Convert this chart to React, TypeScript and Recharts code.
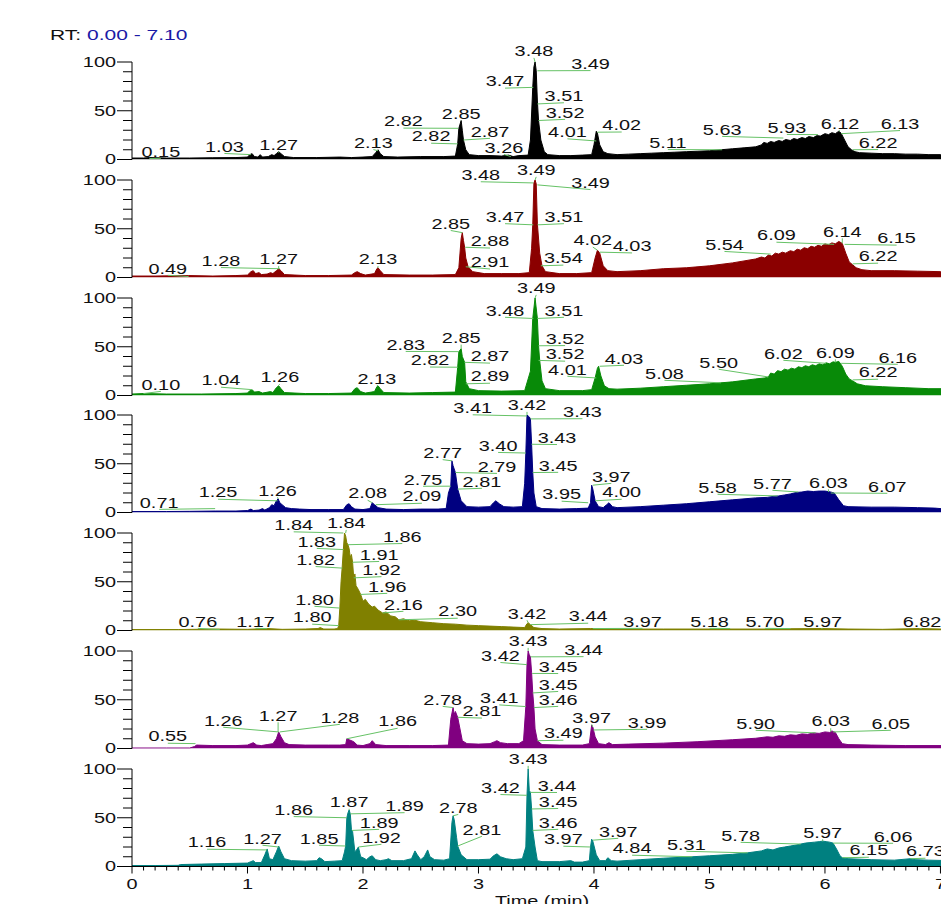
import { AreaChart, Area, XAxis, YAxis, ReferenceLine, ReferenceDot } from 'recharts'

type Pt = [number, number]
// label text, peak rt, peak height, label rt, label height
type Peak = [string, number, number, number, number]

const FONT = "'Liberation Sans', Arial, Helvetica, sans-serif"
const STRETCH = 1.42
const LEADER = '#66c266'

const yTicks = [0, 10, 20, 30, 40, 50, 60, 70, 80, 90, 100]
const yLabels = [0, 50, 100]
const xLabels = [0, 1, 2, 3, 4, 5, 6, 7]
const xTicks = Array.from({ length: 72 }, (_, i) => i / 10)

const trace1: Pt[] = [
  [0, 1.5], [0.1, 1.5], [0.15, 2], [0.3, 1.5], [0.5, 1.5], [0.7, 1.8], [0.9, 2], [1, 2.5], [1.02, 5], [1.04, 6],
  [1.06, 3], [1.09, 2.5], [1.11, 5], [1.13, 2.5], [1.18, 3], [1.21, 5], [1.23, 4], [1.25, 6], [1.27, 8], [1.29, 6],
  [1.32, 3], [1.4, 2], [1.6, 2], [1.8, 2.5], [1.9, 2], [2, 2.5], [2.08, 3], [2.11, 7], [2.13, 10], [2.15, 6],
  [2.18, 3], [2.3, 2.5], [2.5, 3], [2.7, 3], [2.8, 3.5], [2.82, 16], [2.83, 32], [2.85, 40], [2.86, 30], [2.87, 20],
  [2.89, 10], [2.92, 5], [3, 4], [3.1, 4], [3.2, 3.5], [3.26, 4.5], [3.3, 3], [3.35, 4], [3.43, 4.5], [3.45, 20],
  [3.47, 74], [3.48, 95], [3.49, 100], [3.5, 91], [3.51, 60], [3.52, 40], [3.54, 20], [3.57, 8], [3.6, 5], [3.7, 4],
  [3.8, 4], [3.9, 4.5], [3.98, 5], [4, 15], [4.02, 29], [4.03, 27], [4.05, 15], [4.08, 8], [4.12, 6], [4.2, 5],
  [4.3, 5.5], [4.4, 6], [4.5, 6.5], [4.6, 7], [4.7, 7.5], [4.8, 8], [4.9, 8.5], [5, 9], [5.1, 10], [5.2, 11],
  [5.3, 12], [5.4, 13], [5.45, 15], [5.47, 17.5], [5.5, 16.5], [5.53, 18.5], [5.56, 17.5], [5.6, 19.5], [5.63, 18.5], [5.66, 20.5],
  [5.7, 19.5], [5.73, 21.5], [5.76, 20.5], [5.8, 22.5], [5.83, 21.5], [5.86, 23.5], [5.9, 22.5], [5.93, 24.5], [5.96, 24], [6, 26.5],
  [6.03, 25.5], [6.06, 27.5], [6.09, 26.5], [6.12, 29], [6.14, 27], [6.17, 20], [6.2, 13], [6.23, 10], [6.26, 8], [6.3, 7],
  [6.4, 6.5], [6.5, 6], [6.6, 6], [6.7, 5.5], [6.8, 5.5], [6.9, 5], [7, 5], [7.1, 5],
]

const trace2: Pt[] = [
  [0, 1.5], [0.2, 1.5], [0.49, 2], [0.7, 1.5], [0.9, 2], [1, 2.5], [1.03, 6], [1.05, 7], [1.07, 4], [1.1, 5],
  [1.12, 3], [1.17, 3.5], [1.2, 5], [1.22, 4], [1.25, 7], [1.27, 9], [1.29, 7], [1.32, 3], [1.5, 2], [1.7, 2],
  [1.9, 2.5], [1.93, 5], [1.95, 6], [1.98, 4], [2.02, 2.5], [2.1, 4], [2.12, 9], [2.13, 10], [2.15, 7], [2.18, 3],
  [2.4, 2.5], [2.6, 2.5], [2.8, 3], [2.83, 10], [2.85, 40], [2.86, 46], [2.87, 38], [2.88, 31], [2.89, 20], [2.91, 11],
  [2.95, 6], [3.05, 4], [3.2, 4], [3.35, 4], [3.44, 5], [3.46, 30], [3.47, 54], [3.48, 97], [3.49, 100], [3.5, 96],
  [3.51, 55], [3.53, 25], [3.55, 12], [3.58, 6], [3.7, 4], [3.85, 4], [3.98, 5], [4.01, 20], [4.03, 28], [4.05, 25],
  [4.08, 12], [4.12, 7], [4.2, 6], [4.4, 7], [4.6, 9], [4.8, 10], [5, 12], [5.2, 15], [5.4, 19], [5.45, 21],
  [5.48, 20], [5.51, 23], [5.54, 22], [5.57, 25], [5.6, 24], [5.63, 26], [5.66, 25], [5.7, 27.5], [5.73, 26.5], [5.76, 29],
  [5.79, 28], [5.82, 30.5], [5.85, 29.5], [5.88, 32], [5.91, 31], [5.94, 33], [5.97, 32], [6, 34.5], [6.03, 33.5], [6.06, 35.5],
  [6.09, 34.5], [6.12, 37], [6.15, 35], [6.18, 25], [6.21, 16], [6.24, 13], [6.27, 10], [6.32, 8], [6.4, 7], [6.6, 7],
  [6.8, 6.5], [7, 6], [7.1, 6],
]

const trace3: Pt[] = [
  [0, 1.5], [0.1, 2], [0.3, 1.5], [0.6, 1.5], [0.9, 2], [1, 2.5], [1.02, 5], [1.04, 6], [1.06, 3.5], [1.1, 4],
  [1.13, 2.5], [1.2, 4], [1.22, 3], [1.25, 8], [1.27, 10], [1.29, 7], [1.32, 3], [1.5, 2], [1.7, 2], [1.9, 2.5],
  [1.93, 7], [1.95, 8], [1.98, 4], [2.02, 2.5], [2.1, 4], [2.12, 9], [2.13, 10], [2.15, 7], [2.18, 3], [2.4, 2.5],
  [2.6, 3], [2.8, 3.5], [2.82, 29], [2.83, 45], [2.85, 48], [2.86, 40], [2.88, 34], [2.89, 14], [2.92, 7], [3, 5],
  [3.2, 4.5], [3.4, 5], [3.45, 25], [3.47, 79], [3.49, 100], [3.51, 79], [3.52, 51], [3.53, 36], [3.55, 15], [3.58, 7],
  [3.7, 5], [3.9, 5], [3.98, 6], [4.01, 18], [4.03, 28], [4.04, 30], [4.06, 20], [4.09, 10], [4.13, 7], [4.2, 6.5],
  [4.4, 7.5], [4.6, 9], [4.8, 10.5], [5, 12], [5.2, 14], [5.4, 17], [5.48, 18], [5.51, 19], [5.53, 23], [5.56, 22],
  [5.59, 25.5], [5.62, 24.5], [5.65, 27], [5.68, 26], [5.71, 28], [5.74, 27], [5.77, 29.5], [5.8, 28.5], [5.83, 30.5], [5.86, 29.5],
  [5.89, 31.5], [5.92, 30.5], [5.95, 32.5], [5.98, 31.5], [6.01, 33.5], [6.04, 32.5], [6.07, 34.5], [6.09, 34], [6.12, 35], [6.15, 30],
  [6.18, 22], [6.21, 17], [6.24, 15], [6.28, 12], [6.35, 10], [6.5, 9], [6.7, 8], [6.9, 7], [7.1, 7],
]

const trace4: Pt[] = [
  [0, 1], [0.3, 1], [0.5, 1.2], [0.72, 1.5], [0.9, 1.5], [1, 2], [1.03, 3.5], [1.05, 2], [1.1, 2.5], [1.13, 4],
  [1.15, 2.5], [1.19, 5], [1.21, 8], [1.23, 7], [1.25, 12], [1.265, 14], [1.28, 10], [1.3, 8], [1.33, 5], [1.38, 4],
  [1.45, 3.5], [1.55, 3], [1.7, 3], [1.83, 3], [1.86, 8], [1.88, 9], [1.9, 6], [1.93, 3.5], [2, 3], [2.06, 4],
  [2.08, 10], [2.1, 8], [2.13, 5], [2.2, 3.5], [2.35, 3], [2.5, 3.5], [2.65, 3.5], [2.72, 4], [2.74, 20], [2.76, 27],
  [2.77, 53], [2.78, 48], [2.8, 41], [2.82, 24], [2.85, 12], [2.9, 6], [3, 5.5], [3.1, 6], [3.13, 10], [3.15, 12],
  [3.18, 9], [3.22, 6], [3.3, 5.5], [3.38, 6], [3.4, 30], [3.41, 61], [3.42, 100], [3.43, 99], [3.44, 98], [3.45, 96],
  [3.46, 70], [3.47, 41], [3.48, 20], [3.5, 6], [3.55, 4], [3.7, 3.5], [3.85, 4], [3.95, 4.5], [3.97, 10], [3.98, 28],
  [3.99, 24], [4.01, 12], [4.04, 6], [4.08, 5], [4.11, 8], [4.13, 10], [4.16, 6], [4.2, 5], [4.4, 6], [4.6, 7.5],
  [4.8, 9], [5, 11], [5.2, 13], [5.4, 15], [5.5, 15.5], [5.55, 16.5], [5.6, 17], [5.65, 18], [5.7, 19], [5.75, 20.5],
  [5.8, 21], [5.85, 22], [5.9, 21.5], [5.95, 22], [6, 22], [6.05, 21], [6.08, 20], [6.12, 13], [6.16, 7], [6.2, 6],
  [6.4, 5.5], [6.6, 5.5], [6.8, 5], [6.95, 4.5], [7.1, 3],
]

const trace5: Pt[] = [
  [0, 1], [0.4, 1], [0.76, 1.5], [1, 1.2], [1.17, 2], [1.3, 1.2], [1.5, 1.5], [1.61, 2], [1.63, 3], [1.66, 1.5],
  [1.75, 1.5], [1.78, 2], [1.79, 5], [1.8, 24], [1.81, 50], [1.82, 65], [1.83, 83], [1.84, 100], [1.85, 97], [1.86, 90],
  [1.87, 88], [1.88, 84], [1.89, 75], [1.9, 78], [1.91, 70], [1.92, 54], [1.93, 58], [1.94, 46], [1.96, 42], [1.98, 37],
  [2, 30], [2.02, 32], [2.05, 27], [2.08, 24], [2.1, 25], [2.13, 21], [2.17, 18], [2.2, 19], [2.24, 15], [2.28, 14],
  [2.31, 11], [2.35, 12], [2.4, 10], [2.45, 10.5], [2.5, 9], [2.6, 8], [2.7, 7], [2.8, 6.5], [2.9, 5.5], [3, 5],
  [3.1, 4.5], [3.2, 4], [3.3, 3.5], [3.4, 3], [3.42, 7], [3.43, 8], [3.45, 6], [3.48, 3], [3.55, 2], [3.7, 1.5],
  [3.97, 2], [4.2, 1.5], [4.6, 1.5], [5, 1.5], [5.18, 1.5], [5.5, 1.5], [5.7, 1.8], [5.97, 2], [6.2, 1.5], [6.5, 1.2],
  [6.82, 2], [7.1, 1.2],
]

const trace6: Pt[] = [
  [0, 0.5], [0.3, 0.5], [0.5, 0.5], [0.54, 2], [0.56, 3.5], [0.7, 3], [0.9, 3], [1, 3.5], [1.03, 5], [1.05, 6],
  [1.08, 3.5], [1.12, 3], [1.17, 4], [1.22, 5], [1.25, 10], [1.27, 17], [1.29, 12], [1.32, 6], [1.36, 4], [1.5, 3.5],
  [1.7, 3.5], [1.8, 3.5], [1.85, 4], [1.86, 10], [1.88, 9], [1.92, 7], [1.95, 3.5], [2, 3], [2.06, 5], [2.08, 8],
  [2.11, 4], [2.2, 3], [2.4, 3], [2.6, 3], [2.74, 3.5], [2.76, 30], [2.78, 42], [2.79, 35], [2.8, 38], [2.82, 32],
  [2.84, 20], [2.86, 8], [2.9, 5], [3, 4.5], [3.1, 5], [3.14, 7], [3.16, 8], [3.19, 6], [3.25, 5], [3.35, 5],
  [3.39, 8], [3.41, 43], [3.42, 86], [3.43, 100], [3.44, 96], [3.45, 94], [3.46, 78], [3.47, 57], [3.48, 42], [3.49, 20],
  [3.51, 8], [3.55, 4], [3.7, 3.5], [3.9, 3.5], [3.96, 5], [3.98, 24], [3.99, 22], [4.01, 12], [4.04, 5], [4.1, 4],
  [4.13, 6], [4.16, 4], [4.3, 4.5], [4.6, 5.5], [4.9, 7], [5.2, 9], [5.4, 10.5], [5.5, 12], [5.55, 11.5], [5.6, 13],
  [5.65, 12.5], [5.7, 14], [5.75, 13.5], [5.8, 15], [5.85, 14.5], [5.9, 16], [5.95, 15.5], [6, 17], [6.04, 16.5], [6.06, 18],
  [6.09, 16.5], [6.12, 10], [6.15, 5], [6.2, 4], [6.4, 3.5], [6.7, 3], [7.1, 3],
]

const trace7: Pt[] = [
  [0, 1], [0.2, 1], [0.4, 1.2], [0.42, 2], [0.6, 2.5], [0.8, 3], [1, 3.5], [1.03, 5], [1.05, 6], [1.07, 4],
  [1.12, 4], [1.15, 12], [1.17, 18], [1.19, 8], [1.22, 7], [1.25, 15], [1.27, 21], [1.29, 15], [1.32, 8], [1.38, 6],
  [1.5, 5.5], [1.6, 6], [1.62, 9], [1.64, 8], [1.67, 5], [1.75, 5.5], [1.82, 6], [1.84, 15], [1.85, 21], [1.86, 50],
  [1.87, 55], [1.88, 58], [1.89, 54], [1.9, 38], [1.91, 36], [1.93, 15], [1.95, 18], [1.96, 20], [1.98, 10], [2, 9],
  [2.03, 7], [2.06, 10], [2.08, 11], [2.11, 7], [2.15, 6], [2.2, 7], [2.22, 8], [2.25, 6], [2.35, 6], [2.42, 8],
  [2.45, 16], [2.47, 12], [2.5, 7], [2.53, 10], [2.56, 17], [2.58, 10], [2.62, 7], [2.7, 6.5], [2.75, 8], [2.77, 45],
  [2.78, 52], [2.79, 48], [2.81, 30], [2.82, 21], [2.85, 12], [2.9, 7], [3, 7], [3.1, 7.5], [3.13, 11], [3.16, 13],
  [3.19, 10], [3.24, 8], [3.3, 7], [3.38, 8], [3.41, 20], [3.42, 73], [3.43, 100], [3.44, 78], [3.45, 76], [3.46, 59],
  [3.47, 37], [3.49, 20], [3.51, 6], [3.55, 5], [3.7, 5], [3.8, 6], [3.83, 4.5], [3.9, 4.5], [3.96, 6], [3.97, 20],
  [3.98, 28], [3.99, 26], [4.02, 12], [4.05, 6], [4.1, 6], [4.12, 9], [4.15, 6], [4.2, 5.5], [4.4, 7], [4.6, 8.5],
  [4.85, 10], [5, 11], [5.2, 12.5], [5.33, 14], [5.45, 16], [5.5, 18], [5.55, 17], [5.6, 19], [5.65, 20], [5.7, 21],
  [5.75, 22], [5.79, 23], [5.83, 24], [5.87, 24.5], [5.91, 25], [5.95, 25.5], [5.98, 26], [6.01, 25.5], [6.04, 25], [6.07, 24],
  [6.1, 18], [6.13, 11], [6.15, 9], [6.2, 8], [6.4, 7], [6.6, 6.5], [6.74, 8], [6.78, 7], [6.9, 6.5], [7.1, 6],
]

const peaks1: Peak[] = [
  ['0.15', 0.15, 1, 0.25, 8], ['1.03', 1.03, 5, 0.8, 13], ['1.27', 1.27, 7, 1.27, 15], ['2.13', 2.13, 9, 2.09, 17],
  ['2.82', 2.825, 32, 2.35, 39], ['2.85', 2.85, 40, 2.85, 47], ['2.82', 2.82, 16, 2.59, 23.5], ['2.87', 2.87, 20, 3.1, 28.5],
  ['3.26', 3.28, 3, 3.22, 12], ['3.47', 3.475, 74, 3.23, 80], ['3.48', 3.49, 100, 3.48, 111], ['3.49', 3.51, 91, 3.97, 98],
  ['3.51', 3.51, 57, 3.74, 65], ['3.52', 3.52, 40, 3.75, 48], ['4.01', 4.02, 19, 3.77, 28], ['4.02', 4.03, 28, 4.24, 35],
  ['5.11', 5.11, 10, 4.64, 17], ['5.63', 5.64, 22, 5.11, 30.5], ['5.93', 5.94, 25.5, 5.67, 32.5], ['6.12', 6.12, 29, 6.13, 36.5],
  ['6.13', 6.14, 26.5, 6.65, 36.5], ['6.22', 6.24, 10, 6.46, 17],
]

const peaks2: Peak[] = [
  ['0.49', 0.49, 1, 0.31, 9], ['1.28', 1.28, 9, 0.77, 17], ['1.27', 1.27, 9, 1.27, 18.5], ['2.13', 2.13, 10, 2.13, 18.5],
  ['2.85', 2.86, 46, 2.76, 55], ['2.88', 2.885, 31, 3.1, 37], ['2.91', 2.89, 11, 3.1, 15.5], ['3.48', 3.475, 97, 3.02, 105],
  ['3.49', 3.49, 100, 3.5, 110], ['3.49', 3.51, 95, 3.97, 97], ['3.47', 3.475, 54, 3.23, 62], ['3.51', 3.51, 54, 3.74, 62],
  ['3.54', 3.54, 12, 3.735, 19.5], ['4.02', 4.03, 28, 3.99, 38], ['4.03', 4.05, 26, 4.33, 32], ['5.54', 5.53, 24, 5.13, 33.5],
  ['6.09', 6.08, 34, 5.58, 43], ['6.14', 6.15, 35, 6.15, 47], ['6.15', 6.17, 34, 6.62, 40], ['6.22', 6.24, 14, 6.46, 21.5],
]

const peaks3: Peak[] = [
  ['0.10', 0.1, 2, 0.25, 11], ['1.04', 1.04, 6, 0.77, 15.3], ['1.26', 1.265, 10, 1.28, 18.4], ['2.13', 2.13, 10, 2.12, 17.3],
  ['2.83', 2.825, 45, 2.37, 52], ['2.85', 2.85, 48, 2.85, 59], ['2.82', 2.82, 29, 2.58, 36], ['2.87', 2.88, 34, 3.1, 40],
  ['2.89', 2.89, 12, 3.1, 19.4], ['3.49', 3.49, 100, 3.5, 110], ['3.48', 3.475, 79, 3.23, 87], ['3.51', 3.51, 79, 3.74, 87],
  ['3.52', 3.52, 51, 3.75, 58], ['3.52', 3.52, 36, 3.75, 42], ['4.01', 4.02, 18, 3.77, 26.5], ['4.03', 4.05, 30, 4.26, 37.8],
  ['5.08', 5.1, 13, 4.61, 22.4], ['5.50', 5.51, 19, 5.08, 33.7], ['6.02', 6.01, 33, 5.64, 42.9], ['6.09', 6.09, 34, 6.09, 43.9],
  ['6.16', 6.14, 33, 6.63, 38.8], ['6.22', 6.24, 16, 6.46, 23.5],
]

const peaks4: Peak[] = [
  ['0.71', 0.72, 4, 0.235, 10], ['1.25', 1.26, 12, 0.745, 20.4], ['1.26', 1.265, 14, 1.26, 22.4], ['2.08', 2.08, 10, 2.04, 19.4],
  ['2.09', 2.11, 8, 2.51, 16.3], ['2.75', 2.76, 27, 2.52, 33.7], ['2.77', 2.77, 53, 2.69, 61], ['2.79', 2.8, 41, 3.16, 46.9],
  ['2.81', 2.82, 24, 3.03, 31.6], ['3.41', 3.42, 99, 2.95, 107], ['3.42', 3.42, 100, 3.42, 110], ['3.40', 3.41, 61, 3.17, 68.4],
  ['3.43', 3.45, 96, 3.9, 103], ['3.43', 3.46, 70, 3.68, 76.5], ['3.45', 3.47, 41, 3.69, 48], ['3.95', 3.95, 10, 3.72, 18.4],
  ['3.97', 3.99, 28, 4.15, 36.7], ['4.00', 4.01, 12, 4.24, 20.4], ['5.58', 5.59, 17, 5.07, 25.5], ['5.77', 5.77, 21, 5.545, 29.6],
  ['6.03', 6.03, 21, 6.03, 30.6], ['6.07', 6.05, 20, 6.54, 26.5],
]

const peaks5: Peak[] = [
  ['0.76', 0.76, 1, 0.57, 9], ['1.17', 1.17, 2, 1.07, 9], ['1.84', 1.83, 100, 1.4, 108], ['1.84', 1.85, 100, 1.855, 110],
  ['1.83', 1.83, 83, 1.6, 91], ['1.86', 1.87, 88, 2.34, 96], ['1.82', 1.82, 64, 1.59, 72.4], ['1.91', 1.91, 70, 2.14, 77.6],
  ['1.92', 1.92, 54, 2.16, 62], ['1.96', 1.98, 37, 2.21, 44.9], ['1.80', 1.8, 23, 1.58, 31.6], ['1.80', 1.79, 5, 1.56, 13.3],
  ['2.16', 2.17, 18, 2.35, 26.5], ['2.30', 2.31, 11, 2.82, 19.4], ['3.42', 3.43, 8, 3.42, 17.3], ['3.44', 3.45, 6, 3.95, 14.3],
  ['3.97', 3.99, 2, 4.42, 9], ['5.18', 5.18, 2, 5, 9], ['5.70', 5.7, 2, 5.48, 9], ['5.97', 5.97, 2, 5.98, 9],
  ['6.82', 6.82, 2, 6.84, 9],
]

const peaks6: Peak[] = [
  ['0.55', 0.55, 5, 0.31, 12.2], ['1.26', 1.27, 17, 0.79, 28.6], ['1.27', 1.265, 17, 1.265, 33.7], ['1.28', 1.28, 17, 1.8, 31.6],
  ['1.86', 1.86, 10, 2.3, 27.6], ['2.78', 2.78, 42, 2.69, 50], ['2.81', 2.82, 32, 3.03, 38], ['3.42', 3.42, 86, 3.19, 95],
  ['3.43', 3.43, 100, 3.43, 110], ['3.41', 3.41, 43, 3.18, 51.5], ['3.44', 3.45, 94, 3.91, 101], ['3.45', 3.465, 77, 3.69, 83.7],
  ['3.45', 3.47, 57, 3.69, 65.3], ['3.46', 3.48, 42, 3.69, 50], ['3.49', 3.51, 8, 3.735, 15.3], ['3.97', 3.99, 22, 3.98, 31.6],
  ['3.99', 3.995, 19, 4.46, 26.5], ['5.90', 5.92, 16, 5.4, 25.5], ['6.03', 6.05, 17, 6.05, 27.6], ['6.05', 6.07, 17, 6.57, 25.5],
]

const peaks7: Peak[] = [
  ['1.16', 1.17, 17, 0.65, 24.5], ['1.27', 1.27, 20, 1.13, 28.6], ['1.86', 1.86, 50, 1.4, 58], ['1.87', 1.88, 58, 1.88, 66],
  ['1.89', 1.89, 54, 2.36, 62], ['1.89', 1.905, 37, 2.14, 44.9], ['1.85', 1.85, 21, 1.62, 28.6], ['1.92', 1.96, 20, 2.16, 29.6],
  ['2.78', 2.78, 52, 2.825, 60.2], ['2.81', 2.82, 21, 3.03, 37.8], ['3.42', 3.42, 73, 3.19, 80.6], ['3.43', 3.43, 100, 3.43, 110],
  ['3.44', 3.45, 76, 3.68, 82.7], ['3.45', 3.46, 59, 3.69, 66.3], ['3.46', 3.47, 37, 3.69, 44.9], ['3.97', 3.97, 20, 3.735, 27.6],
  ['3.97', 3.99, 27, 4.21, 35.7], ['4.84', 4.85, 10, 4.33, 18.4], ['5.31', 5.33, 14, 4.8, 22.4], ['5.78', 5.79, 23, 5.27, 31.6],
  ['5.97', 5.98, 26, 5.98, 34.7], ['6.06', 6.07, 24, 6.59, 30.6], ['6.15', 6.15, 9, 6.38, 16.3], ['6.73', 6.74, 8, 6.87, 15.3],
]

const panels = [
  { id: 'p1', color: '#000000', trace: trace1, peaks: peaks1 },
  { id: 'p2', color: '#8b0000', trace: trace2, peaks: peaks2 },
  { id: 'p3', color: '#088a08', trace: trace3, peaks: peaks3 },
  { id: 'p4', color: '#000080', trace: trace4, peaks: peaks4 },
  { id: 'p5', color: '#808000', trace: trace5, peaks: peaks5 },
  { id: 'p6', color: '#800080', trace: trace6, peaks: peaks6 },
  { id: 'p7', color: '#008080', trace: trace7, peaks: peaks7 },
]

function StretchText({ x, y, anchor = 'middle', children }: { x: number; y: number; anchor?: string; children: any }) {
  return (
    <g transform={`translate(${x},${y}) scale(${STRETCH},1)`}>
      <text x={0} y={0} textAnchor={anchor as any} dominantBaseline="central" fontFamily={FONT} fontSize={14} fill="#111">
        {children}
      </text>
    </g>
  )
}

function YTick({ x, y, payload }: any) {
  const major = yLabels.includes(payload.value)
  return (
    <g>
      <line x1={x - (major ? 15 : 9)} x2={x} y1={y} y2={y} stroke="#000" />
      {major && <StretchText x={x - 16} y={y} anchor="end">{payload.value}</StretchText>}
    </g>
  )
}

function XTick({ x, y, payload }: any) {
  const major = xLabels.includes(payload.value)
  return (
    <g>
      <line x1={x} x2={x} y1={y} y2={y + (major ? 7 : 4)} stroke="#000" />
      {major && <StretchText x={x} y={y + 18}>{payload.value}</StretchText>}
    </g>
  )
}

function AxisTitle(props: any) {
  const vb = props.viewBox || { x: 132, y: 866, width: 820, height: 40 }
  return <StretchText x={vb.x + vb.width / 2} y={vb.y + 35}>Time (min)</StretchText>
}

const PANEL_STEP = 117.75
const TOP_PAD = 22
const PLOT_H = 97.5
const BOTTOM_PAD = 9
const AXIS_H = 40

export default function App() {
  return (
    <div style={{ position: 'absolute', left: 0, top: 0, width: 941, height: 904, overflow: 'hidden', background: '#fff' }}>
      <div
        style={{
          position: 'absolute', left: 50, top: 26, fontFamily: FONT, fontSize: 14, lineHeight: '18px',
          transform: 'scaleX(1.5)', transformOrigin: 'left center', whiteSpace: 'nowrap', color: '#111',
        }}
      >
        RT: <span style={{ color: '#1a1aa6' }}>0.00 - 7.10</span>
      </div>
      {panels.map((p, i) => {
        const last = i === panels.length - 1
        const bottom = last ? 0 : BOTTOM_PAD
        const height = TOP_PAD + PLOT_H + bottom + (last ? AXIS_H : 0)
        const rows = p.trace.map(([t, v]) => ({ t, v }))
        return (
          <div key={p.id} style={{ position: 'absolute', left: 0, top: 62 - TOP_PAD + i * PANEL_STEP }}>
            <AreaChart width={952} height={height} data={rows} margin={{ top: TOP_PAD, right: 0, bottom, left: 0 }}>
              <XAxis
                dataKey="t"
                type="number"
                domain={[0, 7.1]}
                allowDataOverflow
                hide={!last}
                ticks={xTicks}
                interval={0}
                height={AXIS_H}
                tickSize={0}
                tickMargin={0}
                tickLine={false}
                axisLine={{ stroke: '#000' }}
                tick={(tp: any) => <XTick {...tp} />}
                label={last ? { value: 'Time (min)', content: (lp: any) => <AxisTitle {...lp} /> } : undefined}
              />
              <YAxis
                type="number"
                domain={[0, 100]}
                allowDataOverflow
                ticks={yTicks}
                interval={0}
                width={132}
                tickSize={0}
                tickMargin={0}
                tickLine={false}
                axisLine={{ stroke: '#000' }}
                tick={(tp: any) => <YTick {...tp} />}
              />
              <Area
                type="linear"
                dataKey="v"
                stroke={p.color}
                strokeWidth={1}
                fill={p.color}
                fillOpacity={1}
                dot={false}
                activeDot={false}
                isAnimationActive={false}
              />
              {p.peaks.map(([, at, av, lt, lv], k) => (
                <ReferenceLine
                  key={`l${k}`}
                  segment={[{ x: lt, y: lv - 6.8 }, { x: at, y: av }]}
                  stroke={LEADER}
                  strokeWidth={1}
                  ifOverflow="visible"
                />
              ))}
              {p.peaks.map(([text, , , lt, lv], k) => (
                <ReferenceDot
                  key={`d${k}`}
                  x={lt}
                  y={lv}
                  r={0}
                  ifOverflow="visible"
                  shape={(dp: any) => <StretchText x={dp.cx} y={dp.cy}>{text}</StretchText>}
                />
              ))}
            </AreaChart>
          </div>
        )
      })}
    </div>
  )
}
